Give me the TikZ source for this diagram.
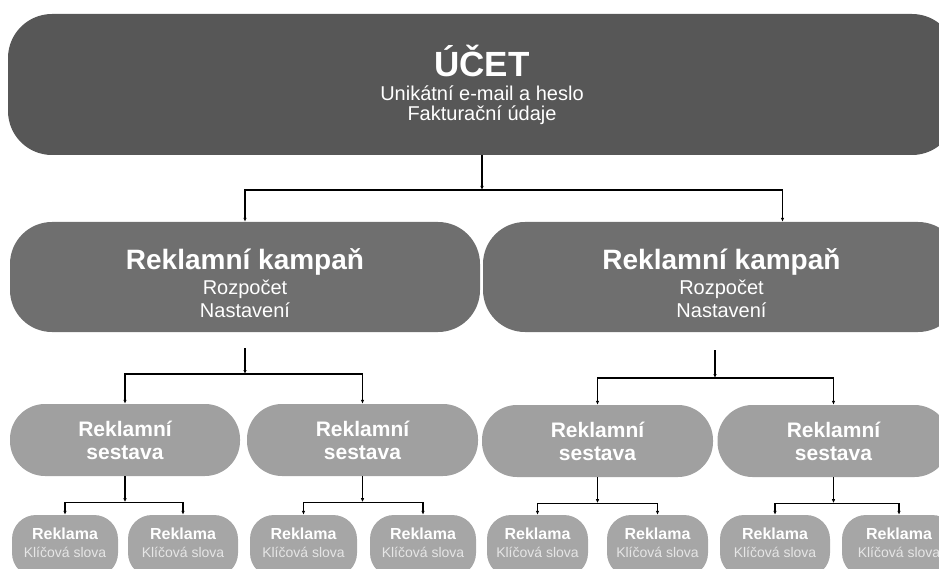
\documentclass[tikz,border=0pt]{standalone}
\usepackage{fontspec}
\setmainfont{Liberation Sans}
\usetikzlibrary{positioning, arrows.meta}

\definecolor{ucetgray}{HTML}{575757}
\definecolor{kampgray}{HTML}{6F6F6F}
\definecolor{sestgray}{HTML}{A0A0A0}
\definecolor{reklgray}{HTML}{A6A6A6}
\definecolor{subgray}{HTML}{E6E6E6}

\tikzset{
  ucetbox/.style={fill=ucetgray, text=white, rounded corners=44pt, minimum width=948pt, minimum height=141pt, align=center, font=\fontsize{20}{20}\selectfont},
  kampbox/.style={fill=kampgray, text=white, rounded corners=42pt, minimum height=110pt, align=center, font=\fontsize{20}{23}\selectfont},
  sestbox/.style={fill=sestgray, text=white, rounded corners=35pt, minimum height=72pt, align=center, font=\fontsize{21}{23}\selectfont\bfseries},
  reklbox/.style={fill=reklgray, text=white, rounded corners=24pt, minimum height=62pt, align=center, font=\fontsize{14}{18}\selectfont},
  link/.style={draw=black, line width=1.1pt},
  arr/.style={link, -{Latex[length=4pt,width=3.5pt]}}
}

\begin{document}
\begin{tikzpicture}[x=1pt, y=-1pt]
  \path[use as bounding box] (0,0) rectangle (939,569);
  \clip (0,0) rectangle (939,569);

  % account
  \node[ucetbox] (ucet) at (482,84.5) {{\fontsize{35}{35}\selectfont\bfseries ÚČET}\\[4pt]Unikátní e-mail a heslo\\Fakturační údaje};

  % campaigns
  \node[kampbox, minimum width=470pt] (kampL) at (245,277) {{\fontsize{28}{28}\selectfont\bfseries\rule{0pt}{34pt}Reklamní kampaň}\\[2pt]Rozpočet\\Nastavení};
  \node[kampbox, minimum width=477pt] (kampR) at (721.5,277) {{\fontsize{28}{28}\selectfont\bfseries\rule{0pt}{34pt}Reklamní kampaň}\\[2pt]Rozpočet\\Nastavení};

  % ad sets
  \node[sestbox, minimum width=230pt] (sestL1) at (125,440) {Reklamní\\sestava};
  \node[sestbox, minimum width=231pt] (sestL2) at (362.5,440) {Reklamní\\sestava};
  \node[sestbox, minimum width=231pt] (sestR1) at (597.5,441) {Reklamní\\sestava};
  \node[sestbox, minimum width=232pt] (sestR2) at (833.5,441) {Reklamní\\sestava};

  % ads
  \node[reklbox, minimum width=106pt] (reklA) at (65,546) {{\fontsize{16}{16}\selectfont\bfseries Reklama}\\{\color{subgray}Klíčová slova}\rule[-7pt]{0pt}{7pt}};
  \node[reklbox, minimum width=110pt] (reklB) at (183,546) {{\fontsize{16}{16}\selectfont\bfseries Reklama}\\{\color{subgray}Klíčová slova}\rule[-7pt]{0pt}{7pt}};
  \node[reklbox, minimum width=107pt] (reklC) at (303.5,546) {{\fontsize{16}{16}\selectfont\bfseries Reklama}\\{\color{subgray}Klíčová slova}\rule[-7pt]{0pt}{7pt}};
  \node[reklbox, minimum width=106pt] (reklD) at (423,546) {{\fontsize{16}{16}\selectfont\bfseries Reklama}\\{\color{subgray}Klíčová slova}\rule[-7pt]{0pt}{7pt}};
  \node[reklbox, minimum width=101pt] (reklE) at (537.5,546) {{\fontsize{16}{16}\selectfont\bfseries Reklama}\\{\color{subgray}Klíčová slova}\rule[-7pt]{0pt}{7pt}};
  \node[reklbox, minimum width=101pt] (reklF) at (657.5,546) {{\fontsize{16}{16}\selectfont\bfseries Reklama}\\{\color{subgray}Klíčová slova}\rule[-7pt]{0pt}{7pt}};
  \node[reklbox, minimum width=110pt] (reklG) at (775,546) {{\fontsize{16}{16}\selectfont\bfseries Reklama}\\{\color{subgray}Klíčová slova}\rule[-7pt]{0pt}{7pt}};
  \node[reklbox, minimum width=114pt] (reklH) at (899,546) {{\fontsize{16}{16}\selectfont\bfseries Reklama}\\{\color{subgray}Klíčová slova}\rule[-7pt]{0pt}{7pt}};

  % junctions
  \coordinate (j0) at (482,190);
  \coordinate (j1) at (245,374);
  \coordinate (j2) at (715,378);
  \coordinate[below=26pt of sestL1.south] (j3);
  \coordinate[below=26pt of sestL2.south] (j4);
  \coordinate[below=26pt of sestR1.south] (j5);
  \coordinate[below=26pt of sestR2.south] (j6);

  \draw[arr] (ucet.south) -- (j0);
  \draw[arr] (j0) -| (kampL.north);
  \draw[arr] (j0) -| ([xshift=61pt]kampR.north);

  \draw[arr, shorten <=16pt] (kampL.south) -- (j1);
  \draw[arr] (j1) -| (sestL1);
  \draw[arr] (j1) -| (sestL2);
  \draw[arr, shorten <=18pt] (kampR.south -| j2) -- (j2);
  \draw[arr] (j2) -| (sestR1);
  \draw[arr] (j2) -| (sestR2);

  \draw[arr] (sestL1.south) -- (j3);
  \draw[arr] (j3) -| (reklA);
  \draw[arr] (j3) -| (reklB);
  \draw[arr] (sestL2.south) -- (j4);
  \draw[arr] (j4) -| (reklC);
  \draw[arr] (j4) -| (reklD);
  \draw[arr] (sestR1.south) -- (j5);
  \draw[arr] (j5) -| (reklE);
  \draw[arr] (j5) -| (reklF);
  \draw[arr] (sestR2.south) -- (j6);
  \draw[arr] (j6) -| (reklG);
  \draw[arr] (j6) -| (reklH);
\end{tikzpicture}
\end{document}
